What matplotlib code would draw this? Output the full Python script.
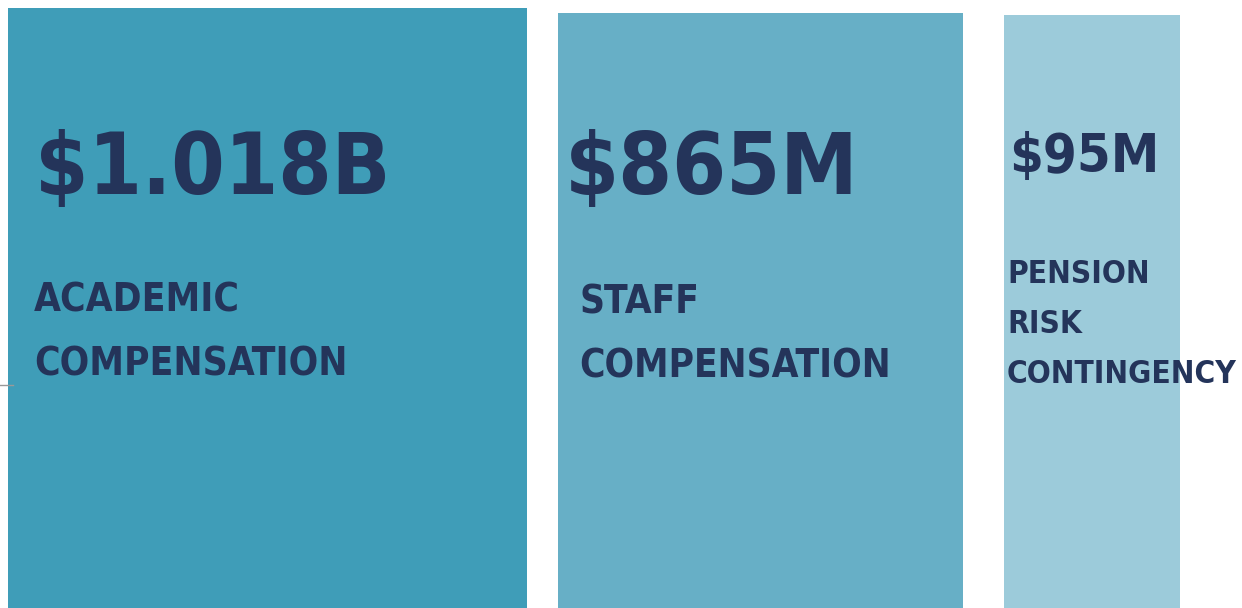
import matplotlib.pyplot as plt
from matplotlib import font_manager

# data
categories = [['ACADEMIC', 'COMPENSATION'], ['STAFF', 'COMPENSATION'], ['PENSION', 'RISK', 'CONTINGENCY']]
amounts = ['$1.018B', '$865M', '$95M']
colors = ['#3f9db8', '#67afc6', '#9ccbda']

# layout in pixels (figure is 1242 x 608)
lefts = [8, 558, 1004]
widths = [519, 405, 176]
tops = [8, 13, 15]
amount_x = [35, 565, 1009]
amount_base = [194, 194, 172]
amount_cap = [72, 72, 45]         # cap heights in the reference
amount_width = [345, 285, 146]    # ink widths in the reference
label_x = [34, 579, 1007]
label_base = [[312, 375], [314, 377], [283, 333, 383]]
label_cap = [34, 34, 30]
label_width = [313, 312, 230]     # widest line

text_color = '#24345a'


def pick_font():
    # a bold narrow sans face if there is one
    wanted = ['Liberation Sans Narrow', 'DejaVu Sans', 'Noto Sans', 'Open Sans', 'Roboto']
    found = {}
    for f in font_manager.fontManager.ttflist:
        if 'Serif' in f.name or 'Mono' in f.name or f.style != 'normal':
            continue
        narrow = 'Narrow' in f.name or 'ondensed' in f.stretch or 'Condensed' in f.fname
        w = f.weight if isinstance(f.weight, int) else 700 if f.weight == 'bold' else 400
        if narrow and 600 <= w <= 800:
            for k in wanted:
                if f.name.startswith(k) and k not in found:
                    found[k] = f.fname
    for k in wanted:
        if k in found:
            return font_manager.FontProperties(fname=found[k])
    return font_manager.FontProperties(family=['Roboto', 'DejaVu Sans'], weight='bold')


fp = pick_font()

figure = plt.figure(figsize=(12.42, 6.08), dpi=100)
axes = figure.add_axes([0, 0, 1, 1])
axes.set_xlim(0, 1242)
axes.set_ylim(608, 0)
axes.axis('off')

heights = [608 - t for t in tops]
axes.bar(lefts, heights, width=widths, bottom=tops, align='edge', color=colors, linewidth=0)

renderer = figure.canvas.get_renderer()


def fit(texts, cap, width, slack, size=40.0):
    # size from cap height, but not much wider than the reference text
    probe = axes.text(0, 0, 'H', fontproperties=fp, fontsize=size)
    h = probe.get_window_extent(renderer).height * 0.72
    probe.remove()
    s = size * cap / h
    for t in texts:
        t.set_fontsize(s)
    w = max(t.get_window_extent(renderer).width for t in texts)
    if w > width * slack:
        s = s * width * slack / w
        for t in texts:
            t.set_fontsize(s)


for i in range(len(categories)):
    a = axes.text(amount_x[i], amount_base[i], amounts[i], fontproperties=fp,
                  color=text_color, va='baseline', ha='left')
    fit([a], amount_cap[i], amount_width[i], 1.03)
    lines = []
    for j, line in enumerate(categories[i]):
        lines.append(axes.text(label_x[i], label_base[i][j], line, fontproperties=fp,
                               color=text_color, va='baseline', ha='left'))
    fit(lines, label_cap[i], label_width[i], 1.0)

# small tick mark on the left edge
axes.plot([0, 13], [385, 385], color='#999999', linewidth=1)

figure.savefig('out.png', dpi=100)
